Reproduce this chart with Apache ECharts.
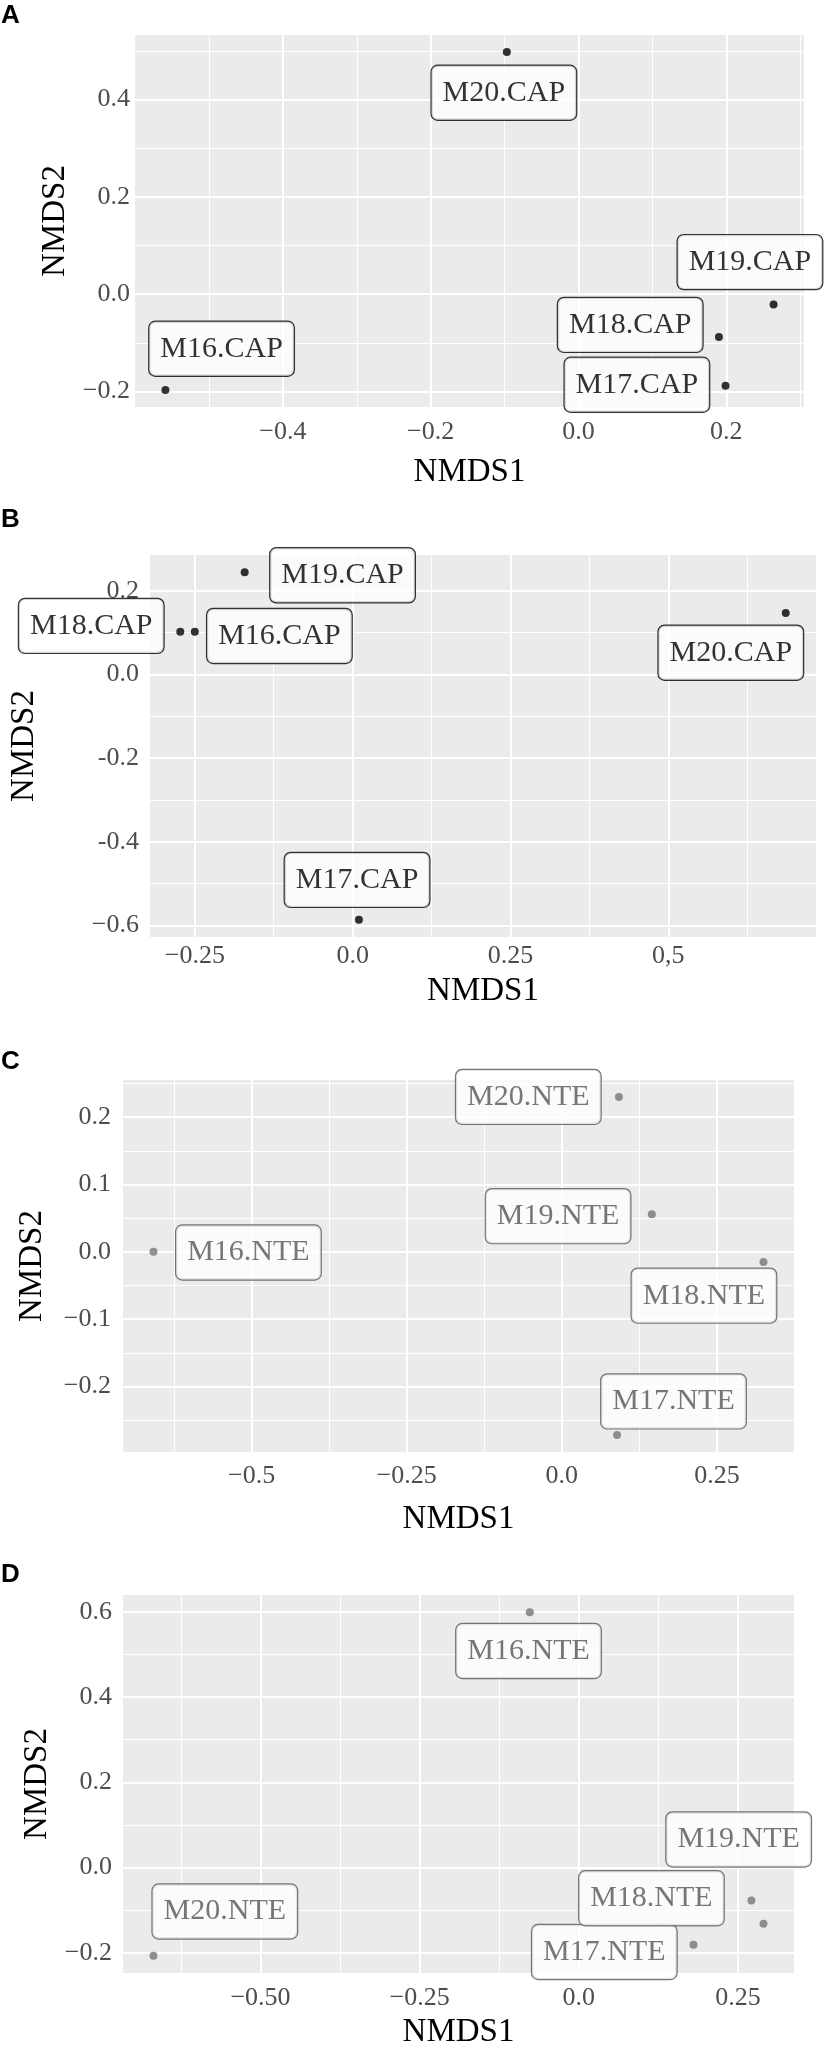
<!DOCTYPE html>
<html>
<head>
<meta charset="utf-8">
<script src="https://cdn.jsdelivr.net/npm/echarts@6/dist/echarts.min.js"></script>
<style>
html,body{margin:0;padding:0;background:#ffffff;}
#chart{width:831px;height:2050px;}
</style>
</head>
<body>
<div id="chart"></div>
<script>
// ---------------- data (order: M16, M17, M18, M19, M20) ----------------
const samplesCAP = ['M16.CAP', 'M17.CAP', 'M18.CAP', 'M19.CAP', 'M20.CAP'];
const samplesNTE = ['M16.NTE', 'M17.NTE', 'M18.NTE', 'M19.NTE', 'M20.NTE'];

// Panel A (CAP)
const nmds1A = [-0.559, 0.199, 0.190, 0.264, -0.097];
const nmds2A = [-0.197, -0.188, -0.088, -0.021, 0.498];
const labelX_A = [-0.483, 0.079, 0.070, 0.232, -0.101];
const labelY_A = [-0.112, -0.186, -0.063, 0.066, 0.414];

// Panel B (CAP)
const nmds1B = [-0.250, 0.010, -0.273, -0.171, 0.686];
const nmds2B = [0.102, -0.586, 0.102, 0.244, 0.147];
const labelX_B = [-0.116, 0.007, -0.414, -0.016, 0.599];
const labelY_B = [0.092, -0.491, 0.116, 0.237, 0.052];

// Panel C (NTE)
const nmds1C = [-0.658, 0.089, 0.325, 0.145, 0.092];
const nmds2C = [0.000, -0.272, -0.015, 0.056, 0.230];
const labelX_C = [-0.505, 0.180, 0.229, -0.006, -0.054];
const labelY_C = [-0.001, -0.222, -0.065, 0.053, 0.230];

// Panel D (NTE)
const nmds1D = [-0.077, 0.180, 0.271, 0.290, -0.668];
const nmds2D = [0.599, -0.181, -0.077, -0.132, -0.207];
const labelX_D = [-0.079, 0.040, 0.114, 0.251, -0.556];
const labelY_D = [0.508, -0.198, -0.072, 0.066, -0.103];

// tick values and tick labels
const xMajorA = [-0.4, -0.2, 0.0, 0.2];
const xMinorA = [-0.5, -0.3, -0.1, 0.1, 0.3];
const xTickLabelsA = ['\u22120.4', '\u22120.2', '0.0', '0.2'];
const yMajorA = [-0.2, 0.0, 0.2, 0.4];
const yMinorA = [-0.1, 0.1, 0.3, 0.5];
const yTickLabelsA = ['\u22120.2', '0.0', '0.2', '0.4'];

const xMajorB = [-0.25, 0.0, 0.25, 0.5];
const xMinorB = [-0.125, 0.125, 0.375, 0.625];
const xTickLabelsB = ['\u22120.25', '0.0', '0.25', '0,5'];
const yMajorB = [-0.6, -0.4, -0.2, 0.0, 0.2];
const yMinorB = [-0.5, -0.3, -0.1, 0.1];
const yTickLabelsB = ['\u22120.6', '-0.4', '-0.2', '0.0', '0.2'];

const xMajorC = [-0.5, -0.25, 0.0, 0.25];
const xMinorC = [-0.625, -0.375, -0.125, 0.125];
const xTickLabelsC = ['\u22120.5', '\u22120.25', '0.0', '0.25'];
const yMajorC = [-0.2, -0.1, 0.0, 0.1, 0.2];
const yMinorC = [-0.25, -0.15, -0.05, 0.05, 0.15, 0.25];
const yTickLabelsC = ['\u22120.2', '\u22120.1', '0.0', '0.1', '0.2'];

const xMajorD = [-0.5, -0.25, 0.0, 0.25];
const xMinorD = [-0.625, -0.375, -0.125, 0.125];
const xTickLabelsD = ['\u22120.50', '\u22120.25', '0.0', '0.25'];
const yMajorD = [-0.2, 0.0, 0.2, 0.4, 0.6];
const yMinorD = [-0.1, 0.1, 0.3, 0.5];
const yTickLabelsD = ['\u22120.2', '0.0', '0.2', '0.4', '0.6'];

const panelLetters = ['A', 'B', 'C', 'D'];

// ---------------- panels ----------------
const panels = [
  {names: samplesCAP, x: nmds1A, y: nmds2A, lx: labelX_A, ly: labelY_A,
   xMajor: xMajorA, xMinor: xMinorA, xLab: xTickLabelsA, yMajor: yMajorA, yMinor: yMinorA, yLab: yTickLabelsA, kind: 'CAP'},
  {names: samplesCAP, x: nmds1B, y: nmds2B, lx: labelX_B, ly: labelY_B,
   xMajor: xMajorB, xMinor: xMinorB, xLab: xTickLabelsB, yMajor: yMajorB, yMinor: yMinorB, yLab: yTickLabelsB, kind: 'CAP'},
  {names: samplesNTE, x: nmds1C, y: nmds2C, lx: labelX_C, ly: labelY_C,
   xMajor: xMajorC, xMinor: xMinorC, xLab: xTickLabelsC, yMajor: yMajorC, yMinor: yMinorC, yLab: yTickLabelsC, kind: 'NTE'},
  {names: samplesNTE, x: nmds1D, y: nmds2D, lx: labelX_D, ly: labelY_D,
   xMajor: xMajorD, xMinor: xMinorD, xLab: xTickLabelsD, yMajor: yMajorD, yMinor: yMinorD, yLab: yTickLabelsD, kind: 'NTE'}
];

// layout (pixels) per panel
const layout = [
  {left: 135, top: 35,   width: 669, height: 372, yLabMargin: 5,  xLabMargin: 12, xNameGap: 49, yNameGap: 61,  letterTop: 3},
  {left: 145, top: 555,  width: 671, height: 382, yLabMargin: 11, xLabMargin: 6,  xNameGap: 38, yNameGap: 109, letterTop: 507},
  {left: 123, top: 1080, width: 671, height: 372, yLabMargin: 12, xLabMargin: 11, xNameGap: 51, yNameGap: 74,  letterTop: 1049},
  {left: 123, top: 1595, width: 671, height: 382, yLabMargin: 11, xLabMargin: 12, xNameGap: 43, yNameGap: 69,  letterTop: 1562}
];

const styleKind = {
  CAP: {point: '#000000', text: '#000000', border: '#000000'},
  NTE: {point: '#767676', text: '#555555', border: '#555555'}
};

function expandRange(arr) {
  const mn = Math.min.apply(null, arr), mx = Math.max.apply(null, arr);
  const r = mx - mn;
  return [mn - 0.05 * r, mx + 0.05 * r];
}
function labelFor(values, labels) {
  return function (v) {
    let best = 0, bd = Infinity;
    for (let i = 0; i < values.length; i++) {
      const d = Math.abs(values[i] - v);
      if (d < bd) { bd = d; best = i; }
    }
    return labels[best];
  };
}

const SERIF = '"Liberation Serif", "Times New Roman", serif';
const grids = [], xAxes = [], yAxes = [], series = [], graphics = [];

panels.forEach(function (p, i) {
  const L = layout[i];
  const xr = expandRange(p.x), yr = expandRange(p.y);
  const st = styleKind[p.kind];
  grids.push({left: L.left, top: L.top, width: L.width, height: L.height,
    show: true, backgroundColor: '#EBEBEB', borderWidth: 0, containLabel: false});

  // main x axis (major grid + labels)
  xAxes.push({
    type: 'value', gridIndex: i, min: xr[0], max: xr[1], position: 'bottom',
    axisLine: {show: false}, axisTick: {show: false, customValues: p.xMajor},
    axisLabel: {show: true, customValues: p.xMajor, formatter: labelFor(p.xMajor, p.xLab),
      color: '#4D4D4D', fontFamily: SERIF, fontSize: 26, margin: L.xLabMargin},
    splitLine: {show: true, lineStyle: {color: '#FFFFFF', width: 2}},
    name: 'NMDS1', nameLocation: 'middle', nameGap: L.xNameGap,
    nameTextStyle: {color: '#000000', fontFamily: SERIF, fontSize: 33}
  });
  // minor x axis (minor grid only)
  xAxes.push({
    type: 'value', gridIndex: i, min: xr[0], max: xr[1], position: 'top',
    axisLine: {show: false}, axisTick: {show: false, customValues: p.xMinor},
    axisLabel: {show: false, customValues: p.xMinor},
    splitLine: {show: true, lineStyle: {color: '#FFFFFF', width: 1}}
  });
  yAxes.push({
    type: 'value', gridIndex: i, min: yr[0], max: yr[1], position: 'left',
    axisLine: {show: false}, axisTick: {show: false, customValues: p.yMajor},
    axisLabel: {show: true, customValues: p.yMajor, formatter: labelFor(p.yMajor, p.yLab),
      color: '#4D4D4D', fontFamily: SERIF, fontSize: 26, margin: L.yLabMargin},
    splitLine: {show: true, lineStyle: {color: '#FFFFFF', width: 2}},
    name: 'NMDS2', nameLocation: 'middle', nameGap: L.yNameGap,
    nameTextStyle: {color: '#000000', fontFamily: SERIF, fontSize: 33}
  });
  yAxes.push({
    type: 'value', gridIndex: i, min: yr[0], max: yr[1], position: 'right',
    axisLine: {show: false}, axisTick: {show: false, customValues: p.yMinor},
    axisLabel: {show: false, customValues: p.yMinor},
    splitLine: {show: true, lineStyle: {color: '#FFFFFF', width: 1}}
  });

  series.push({
    type: 'scatter', xAxisIndex: i * 2, yAxisIndex: i * 2, z: 3, silent: true,
    symbol: 'circle', symbolSize: 8, itemStyle: {color: st.point},
    data: p.x.map(function (v, k) { return {name: p.names[k], value: [v, p.y[k]]}; })
  });
  series.push({
    type: 'scatter', xAxisIndex: i * 2, yAxisIndex: i * 2, z: 4, silent: true, clip: false,
    symbol: 'circle', symbolSize: 0,
    label: {show: true, position: 'inside', formatter: '{b}', fontFamily: SERIF, fontSize: 30, lineHeight: 30,
      color: st.text, backgroundColor: '#FFFFFF', borderColor: st.border, borderWidth: 1.2,
      borderRadius: 6, padding: [12, 11]},
    data: p.lx.map(function (v, k) { return {name: p.names[k], value: [v, p.ly[k]]}; })
  });

  graphics.push({type: 'text', left: 1, top: L.letterTop,
    style: {text: panelLetters[i], font: 'bold 26px "Liberation Sans", Arial, sans-serif', fill: '#000000'}});
});

const chart = echarts.init(document.getElementById('chart'), null, {renderer: 'canvas'});
chart.setOption({
  animation: false,
  backgroundColor: '#FFFFFF',
  grid: grids, xAxis: xAxes, yAxis: yAxes, series: series, graphic: graphics
});
</script>
</body>
</html>
